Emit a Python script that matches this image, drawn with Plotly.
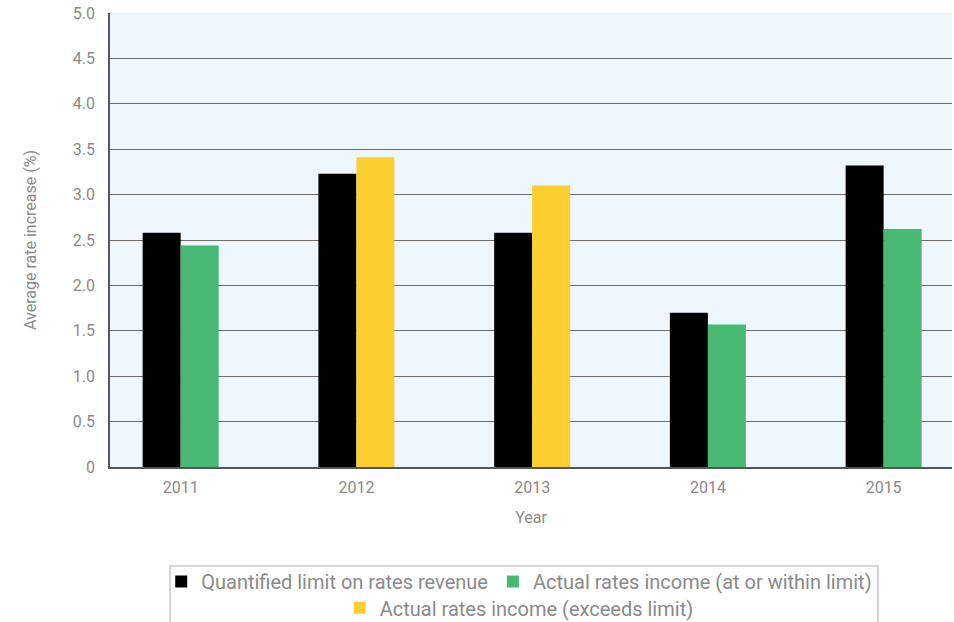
import plotly.graph_objects as go

years = ["2011", "2012", "2013", "2014", "2015"]
limit = [2.58, 3.23, 2.58, 1.70, 3.32]
within = [2.44, None, None, 1.57, 2.62]
exceeds = [None, 3.41, 3.10, None, None]
ytick_vals = [0, 0.5, 1, 1.5, 2, 2.5, 3, 3.5, 4, 4.5, 5]
ytick_text = ["0", "0.5", "1.0", "1.5", "2.0", "2.5", "3.0", "3.5", "4.0", "4.5", "5.0"]

FONT = "Roboto, sans-serif"
GRAY = "#8a8a8a"

fig = go.Figure()
fig.add_trace(go.Bar(x=years, y=limit, name="Quantified limit on rates revenue",
                     marker_color="#000000", marker_line_width=0, offsetgroup="a", legend="legend"))
fig.add_trace(go.Bar(x=years, y=within, name="Actual rates income (at or within limit)",
                     marker_color="#48B974", marker_line_width=0, offsetgroup="b", legend="legend"))
fig.add_trace(go.Bar(x=years, y=exceeds, name="Actual rates income (exceeds limit)",
                     marker_color="#FCCE2F", marker_line_width=0, offsetgroup="b", legend="legend2"))

legend_common = dict(orientation="h", font=dict(family=FONT, size=20, color=GRAY),
                     bgcolor="rgba(0,0,0,0)", borderwidth=0, xref="paper", yref="paper",
                     xanchor="center", yanchor="middle", itemclick=False, itemwidth=30)

fig.update_layout(
    width=954, height=622,
    margin=dict(l=110, r=2, t=13, b=155, autoexpand=False),
    paper_bgcolor="white",
    plot_bgcolor="#EFF7FE",
    barmode="group",
    bargap=0.5676,
    bargroupgap=0,
    showlegend=True,
    legend=dict(x=0.486, y=-0.252, **legend_common),
    legend2=dict(x=0.486, y=-0.310, **legend_common),
    xaxis=dict(
        range=[-0.402, 4.389],
        tickfont=dict(family=FONT, size=16, color=GRAY),
        showgrid=False, showline=True, linecolor="#555555", linewidth=1.5,
        title=dict(text="Year", font=dict(family=FONT, size=16, color=GRAY), standoff=16),
        ticks="", ticklabelstandoff=5, fixedrange=True,
    ),
    yaxis=dict(
        range=[0, 5], tickvals=ytick_vals, ticktext=ytick_text,
        tickfont=dict(family=FONT, size=16, color=GRAY),
        showgrid=True, gridcolor="#6f6f6f", gridwidth=1.3,
        showline=True, linecolor="#555555", linewidth=1.5,
        zeroline=False, ticks="", ticklabelstandoff=10,
        title=dict(text="Average rate increase (%)", font=dict(family=FONT, size=16, color=GRAY), standoff=32),
    ),
    shapes=[dict(type="rect", xref="paper", yref="paper", x0=0.0713, x1=0.9121,
                 y0=-0.218, y1=-0.40, line=dict(color="#c8c8c8", width=1.5),
                 fillcolor="rgba(0,0,0,0)", layer="below")],
)

fig.write_html("out.html")
